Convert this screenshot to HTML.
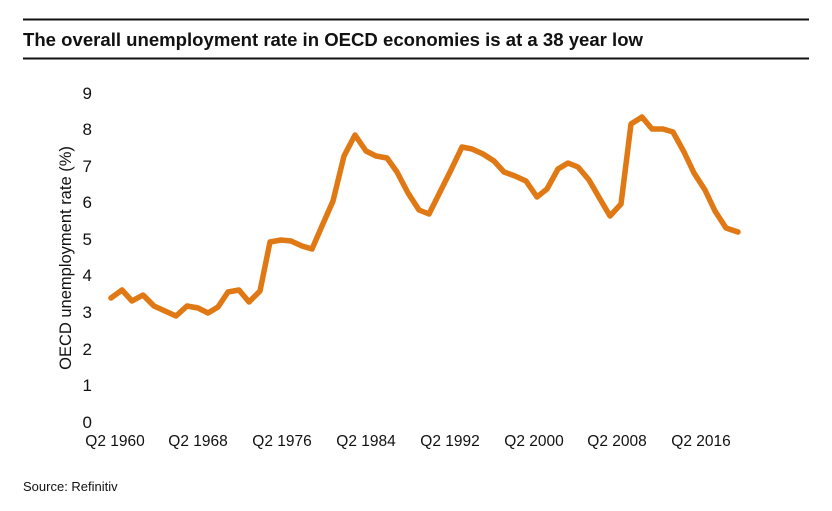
<!DOCTYPE html>
<html><head><meta charset="utf-8"><style>
body{margin:0;background:#fff;width:832px;height:506px;overflow:hidden;font-family:"Liberation Sans",Arial,sans-serif}
</style></head><body>
<svg width="832" height="506" xmlns="http://www.w3.org/2000/svg" font-family="Liberation Sans, Arial, sans-serif">
<rect width="832" height="506" fill="#fff"/>
<line x1="23" y1="19.5" x2="809" y2="19.5" stroke="#111" stroke-width="2"/>
<line x1="23" y1="58.5" x2="809" y2="58.5" stroke="#111" stroke-width="2"/>
<text x="23" y="46" font-size="18" font-weight="bold" fill="#111" textLength="620" lengthAdjust="spacingAndGlyphs">The overall unemployment rate in OECD economies is at a 38 year low</text>
<g font-size="17" fill="#111" text-anchor="end">
<text x="92" y="99">9</text><text x="92" y="135">8</text><text x="92" y="172">7</text><text x="92" y="208">6</text><text x="92" y="245">5</text><text x="92" y="281">4</text><text x="92" y="318">3</text><text x="92" y="355">2</text><text x="92" y="391">1</text><text x="92" y="428">0</text>
</g>
<g font-size="15.5" fill="#111" text-anchor="middle">
<text x="115" y="446">Q2 1960</text><text x="198" y="446">Q2 1968</text><text x="282" y="446">Q2 1976</text><text x="366" y="446">Q2 1984</text><text x="450" y="446">Q2 1992</text><text x="534" y="446">Q2 2000</text><text x="617" y="446">Q2 2008</text><text x="701" y="446">Q2 2016</text>
</g>
<text transform="translate(71,258) rotate(-90)" font-size="16.5" fill="#111" text-anchor="middle">OECD unemployment rate (%)</text>
<polyline fill="none" stroke="#E07814" stroke-width="5.5" stroke-linejoin="round" stroke-linecap="round" points="111,298 122,290 132,301 143,295 154,306 165,311 176,316 187,306 198,308 208,313 218,307 228,292 239,290 249,302 260,291 270,242 281,240 291,241 302,246 312,249 322,226 333,201 344,156 355,135 366,151 376,156 387,158 397,172 408,193 419,210 429,214 440,192 451,170 462,147 472,149 483,154 494,161 504,172 515,176 526,181 537,197 547,189 558,169 568,163 578,167 589,180 600,199 610,216 621,204 631,124 642,117 652,129 663,129 673,132 684,152 694,173 705,190 715,211 726,228 738,232"/>
<text x="23" y="491" font-size="13" fill="#111">Source: Refinitiv</text>
</svg>
</body></html>
